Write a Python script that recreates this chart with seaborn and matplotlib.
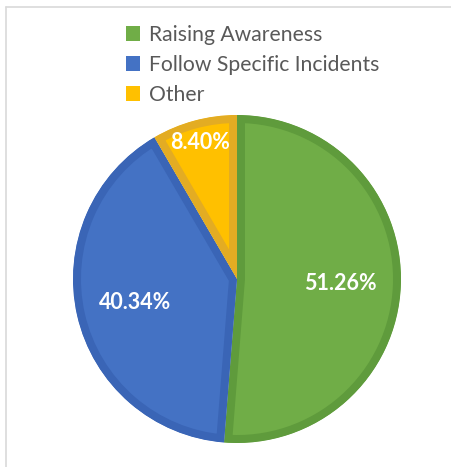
import matplotlib
matplotlib.use("Agg")
import matplotlib.pyplot as plt
from matplotlib.patches import Patch
from matplotlib.lines import Line2D
import seaborn as sns
import numpy as np

# Data
categories = ["Raising Awareness", "Follow Specific Incidents", "Other"]
shares = [51.26, 40.34, 8.40]
fill_colors = ["#70AD47", "#4472C4", "#FFC000"]
edge_colors = ["#5F9B3C", "#3A65B6", "#E3AC23"]
label_distance = [0.63, 0.64, 0.86]

sns.set_theme(style="white")
plt.rcParams["font.family"] = ["Lato", "DejaVu Sans"]

W, H = 452, 467
fig = plt.figure(figsize=(W / 100, H / 100), dpi=100)
fig.patch.set_facecolor("white")

# pie axes: centre (237, 279) px, radius 164 px
cx, cy, r = 237, 279, 164
ax = fig.add_axes([(cx - r) / W, (H - cy - r) / H, 2 * r / W, 2 * r / H])

wedges, _ = ax.pie(
    shares,
    colors=fill_colors,
    startangle=90,
    counterclock=False,
    radius=1.0,
    wedgeprops=dict(linewidth=11.5, joinstyle="miter"),
)
ax.set_xlim(-1, 1)
ax.set_ylim(-1, 1)
ax.set_aspect("equal")
ax.axis("off")
# keep each wedge's darker outline inside its own shape
for w, ec in zip(wedges, edge_colors):
    w.set_edgecolor(ec)
    w.set_clip_path(w.get_path(), w.get_transform())
    w.set_clip_on(True)

# value labels at each wedge's mid-angle
total = sum(shares)
start = 90.0
for val, dist in zip(shares, label_distance):
    span = 360.0 * val / total
    mid = np.deg2rad(start - span / 2)
    ax.text(dist * np.cos(mid), dist * np.sin(mid), f"{val:.2f}%",
            ha="center", va="center", color="white",
            fontsize=15.5, fontweight="bold")
    start -= span

handles = [Patch(facecolor=c, edgecolor="none") for c in fill_colors]
leg = fig.legend(
    handles, categories,
    loc="upper left", bbox_to_anchor=(126 / W, 1 - 25 / H),
    frameon=False, fontsize=15.2,
    handlelength=0.68, handleheight=0.68, handletextpad=0.42,
    labelspacing=0.47, borderpad=0, borderaxespad=0,
)
for t in leg.get_texts():
    t.set_color("#595959")

# light frame lines along the top and left
fig.add_artist(Line2D([6.5 / W, 1], [1 - 7 / H, 1 - 7 / H],
                      transform=fig.transFigure, color="#D9D9D9", lw=1.2))
fig.add_artist(Line2D([6.5 / W, 6.5 / W], [0, 1 - 7 / H],
                      transform=fig.transFigure, color="#D9D9D9", lw=1.2))

fig.savefig("out.png", dpi=100, facecolor="white")
